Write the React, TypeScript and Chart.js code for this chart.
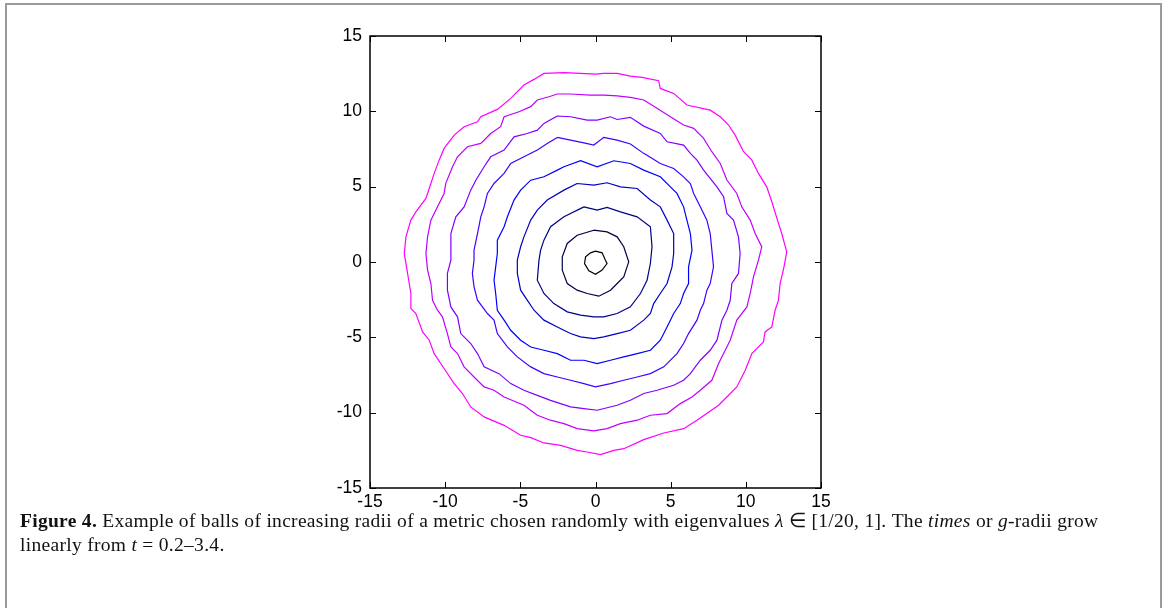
import React, { useEffect, useRef } from "react";
import { Chart, registerables } from "chart.js";

Chart.register(...registerables);

// times (g-radii) of the balls
const times = [0.2, 0.6, 1.0, 1.4, 1.8, 2.2, 2.6, 3.0, 3.4];

// axis ticks
const axisTicks = [-15, -10, -5, 0, 5, 10, 15];

// ball boundaries, [x, y]
const ball1: number[][] = [
  [0, 0.72], [0.44, 0.61], [0.66, 0.12], [0.77, -0.1], [0.44, -0.54], [0, -0.81],
  [-0.44, -0.59], [-0.73, -0.1], [-0.66, 0.34], [-0.33, 0.61],
];
const ball2: number[][] = [
  [-0.11, 2.11], [0.77, 2.0], [1.44, 1.67], [1.88, 1.01], [2.21, 0.01], [1.88, -0.99],
  [1.44, -1.43], [1.0, -1.87], [0.22, -2.27], [-0.55, -2.09], [-1.22, -1.87], [-1.88, -1.43],
  [-2.21, -0.54], [-2.21, 0.34], [-1.88, 1.23], [-1.22, 1.78],
];
const ball3: number[][] = [
  [-0.77, 3.66], [0.11, 3.44], [0.77, 3.62], [1.66, 3.33], [2.77, 3.0], [3.65, 2.34],
  [3.76, 1.01], [3.65, -0.1], [3.43, -1.21], [2.99, -2.09], [2.32, -2.98], [1.44, -3.42],
  [0.55, -3.64], [-0.11, -3.64], [-1.0, -3.53], [-1.88, -3.31], [-2.77, -2.76], [-3.43, -2.09],
  [-3.87, -1.21], [-3.76, 0.12], [-3.65, 0.79], [-3.43, 1.45], [-2.99, 2.34], [-2.1, 3.0],
];
const ball4: number[][] = [
  [-1.22, 5.21], [-0.11, 5.1], [0.77, 5.26], [1.66, 4.99], [2.77, 4.88], [3.65, 4.11],
  [4.31, 3.66], [4.76, 2.78], [5.2, 1.89], [5.2, 0.56], [5.09, -0.32], [4.76, -1.43],
  [4.31, -2.09], [3.87, -2.76], [3.65, -3.42], [3.21, -3.86], [2.32, -4.53], [1.44, -4.75],
  [0.55, -4.97], [-0.11, -5.08], [-1.0, -4.97], [-1.66, -4.75], [-2.54, -4.31], [-3.43, -3.86],
  [-4.09, -3.2], [-4.54, -2.53], [-4.98, -1.87], [-5.2, -0.76], [-5.2, 0.12], [-4.98, 1.01],
  [-4.76, 1.67], [-4.31, 2.78], [-3.87, 3.44], [-3.21, 4.11], [-2.1, 4.77],
];
const ball5: number[][] = [
  [-2.1, 6.32], [-0.99, 6.72], [0.11, 6.32], [1.22, 6.72], [2.32, 6.54], [3.21, 6.1],
  [4.31, 5.66], [4.98, 4.99], [5.42, 4.55], [5.86, 3.66], [6.08, 2.78], [6.31, 1.89],
  [6.42, 0.79], [6.19, -0.32], [6.19, -1.43], [5.86, -2.09], [5.64, -2.76], [5.2, -3.42],
  [4.76, -4.31], [4.31, -5.19], [3.65, -5.86], [2.77, -6.08], [1.88, -6.3], [1.0, -6.52],
  [0.11, -6.74], [-0.77, -6.52], [-1.66, -6.52], [-2.54, -6.08], [-3.43, -5.86], [-4.31, -5.64],
  [-4.98, -5.19], [-5.64, -4.53], [-6.08, -3.86], [-6.53, -3.2], [-6.64, -2.09], [-6.75, -1.21],
  [-6.64, -0.32], [-6.53, 0.56], [-6.53, 1.45], [-6.08, 2.34], [-5.86, 3.0], [-5.42, 4.11],
  [-4.98, 4.77], [-4.31, 5.43], [-3.43, 5.66], [-2.54, 6.1],
];
const ball6: number[][] = [
  [-2.54, 8.27], [-1.66, 8.09], [-0.77, 7.91], [-0.11, 7.76], [0.55, 8.27], [1.44, 8.09],
  [2.32, 7.83], [3.21, 7.21], [4.31, 6.54], [5.2, 6.21], [5.86, 5.65], [6.31, 5.21],
  [6.53, 4.55], [6.97, 3.66], [7.41, 2.78], [7.63, 1.89], [7.74, 0.79], [7.85, -0.32],
  [7.63, -1.43], [7.41, -1.87], [7.19, -2.76], [6.97, -3.2], [6.75, -3.86], [6.19, -4.75],
  [5.86, -5.41], [5.42, -6.08], [4.54, -6.96], [3.65, -7.41], [2.77, -7.63], [1.88, -7.85],
  [1.0, -8.07], [0.0, -8.29], [-0.77, -8.07], [-1.66, -7.85], [-2.54, -7.63], [-3.43, -7.41],
  [-4.31, -6.96], [-5.2, -6.3], [-5.86, -5.63], [-6.53, -4.75], [-6.75, -3.86], [-7.19, -3.42],
  [-7.85, -2.53], [-8.08, -1.65], [-8.19, -0.76], [-8.08, 0.12], [-8.08, 0.79], [-7.85, 1.89],
  [-7.63, 3.0], [-7.41, 3.66], [-7.19, 4.55], [-6.75, 5.21], [-6.08, 5.88], [-5.64, 6.54],
  [-4.76, 6.98], [-3.87, 7.43], [-3.21, 7.87],
];
const ball7: number[][] = [
  [-2.54, 9.69], [-1.66, 9.64], [-0.55, 9.42], [0.11, 9.42], [0.99, 9.64], [1.44, 9.46],
  [2.32, 9.6], [3.21, 9.02], [4.31, 8.53], [4.76, 7.98], [5.86, 7.76], [6.31, 7.21],
  [6.75, 6.76], [7.19, 6.1], [8.08, 4.99], [8.52, 4.33], [8.74, 3.22], [9.18, 2.78],
  [9.51, 1.67], [9.62, 0.56], [9.51, -0.76], [9.07, -1.43], [8.96, -2.54], [8.74, -3.2],
  [8.41, -3.86], [8.08, -5.19], [7.63, -5.86], [6.97, -6.52], [6.31, -7.41], [5.86, -7.85],
  [5.2, -8.18], [4.09, -8.51], [3.21, -8.73], [2.32, -9.18], [1.44, -9.51], [0.11, -9.84],
  [-0.77, -9.73], [-1.66, -9.62], [-2.99, -9.18], [-3.87, -8.85], [-4.76, -8.51], [-5.64, -8.07],
  [-6.42, -7.41], [-7.41, -6.96], [-7.85, -6.08], [-8.3, -5.41], [-8.96, -4.75], [-9.18, -3.64],
  [-9.62, -2.98], [-9.85, -1.87], [-9.85, -0.76], [-9.62, 0.12], [-9.62, 1.01], [-9.62, 1.89],
  [-9.29, 3.0], [-8.74, 3.66], [-8.3, 4.77], [-7.96, 5.43], [-7.41, 6.32], [-6.97, 6.98],
  [-6.08, 7.43], [-5.42, 8.31], [-4.54, 8.53], [-3.87, 8.75], [-3.43, 9.2],
];
const ball8: number[][] = [
  [-0.33, 11.08], [-1.66, 11.15], [-2.54, 11.15], [-3.1, 10.97], [-3.87, 10.75], [-4.31, 10.31],
  [-5.09, 9.97], [-6.08, 9.64], [-6.31, 8.98], [-6.97, 8.53], [-7.63, 7.87], [-8.52, 7.65],
  [-9.18, 6.98], [-9.51, 6.32], [-9.96, 5.22], [-10.07, 4.55], [-10.51, 3.66], [-10.95, 2.78],
  [-11.17, 1.67], [-11.28, 0.56], [-11.17, -0.54], [-10.95, -1.43], [-10.84, -2.54], [-10.51, -3.2],
  [-10.18, -3.64], [-9.85, -4.75], [-9.62, -5.64], [-9.18, -6.08], [-8.74, -6.96], [-8.08, -7.63],
  [-7.41, -8.29], [-6.75, -8.51], [-6.08, -8.96], [-4.76, -9.51], [-3.87, -10.17], [-2.99, -10.5],
  [-2.1, -10.73], [-1.22, -11.06], [-0.11, -11.21], [0.77, -11.06], [1.66, -10.73], [2.77, -10.5],
  [3.65, -10.17], [4.76, -10.06], [5.64, -9.4], [6.42, -8.96], [6.97, -8.51], [7.74, -7.85],
  [8.19, -6.74], [8.52, -6.08], [8.96, -5.19], [9.4, -3.86], [10.07, -2.98], [10.29, -2.09],
  [10.51, -0.99], [10.84, 0.12], [11.06, 1.0], [10.62, 1.89], [10.29, 2.78], [9.73, 3.66],
  [9.4, 4.55], [8.74, 5.44], [8.3, 6.54], [7.74, 7.32], [7.19, 8.2], [6.53, 8.87],
  [5.86, 9.09], [4.98, 9.64], [4.09, 10.2], [3.21, 10.75], [2.32, 10.93], [1.44, 11.02],
  [0.55, 11.08],
];
const ball9: number[][] = [
  [0, 12.47], [0.55, 12.52], [1.44, 12.52], [2.32, 12.34], [3.1, 12.25], [4.2, 12.03],
  [4.31, 11.52], [5.2, 11.19], [6.08, 10.42], [7.63, 10.08], [8.3, 9.64], [8.85, 9.09],
  [9.29, 8.42], [9.85, 7.32], [10.4, 6.76], [10.84, 5.88], [11.39, 4.99], [11.73, 4.0],
  [12.17, 2.56], [12.39, 1.89], [12.72, 0.67], [12.54, -0.32], [12.28, -1.43], [12.17, -2.53],
  [11.95, -3.2], [11.73, -4.31], [11.28, -4.64], [11.17, -5.3], [10.4, -6.08], [9.96, -7.18],
  [9.4, -8.29], [8.74, -8.96], [8.19, -9.51], [6.75, -10.5], [5.86, -11.06], [4.54, -11.35],
  [3.21, -11.79], [1.88, -12.39], [1.22, -12.5], [0.33, -12.78], [-0.55, -12.61], [-1.22, -12.5],
  [-2.32, -12.17], [-3.43, -12.01], [-4.31, -11.66], [-4.98, -11.5], [-6.08, -10.84], [-7.41, -10.28],
  [-8.3, -9.62], [-8.85, -8.73], [-9.4, -8.07], [-10.07, -7.07], [-10.73, -6.08], [-11.06, -5.19],
  [-11.5, -4.64], [-11.95, -3.42], [-12.28, -3.09], [-12.28, -2.09], [-12.5, -0.76], [-12.72, 0.57],
  [-12.61, 1.67], [-12.28, 2.78], [-11.95, 3.33], [-11.28, 4.22], [-10.95, 5.21], [-10.73, 5.88],
  [-10.4, 6.76], [-10.07, 7.54], [-9.4, 8.42], [-8.74, 8.98], [-7.85, 9.31], [-7.63, 9.64],
  [-6.53, 10.13], [-5.64, 10.86], [-4.76, 11.75], [-4.09, 12.12], [-3.43, 12.52], [-2.1, 12.57],
  [-1.0, 12.52],
];

const balls = [ball1, ball2, ball3, ball4, ball5, ball6, ball7, ball8, ball9];

// line colours, black -> blue -> magenta
const ringColors = [
  "#000000", "#000048", "#000088", "#0000c4", "#0000ff",
  "#4000ff", "#8000ff", "#bf00ff", "#ff00ff",
];

const framePlugin = {
  id: "gnuplotFrame",
  afterDraw(chart: any) {
    const { ctx, chartArea } = chart;
    const xs = chart.scales.x;
    const ys = chart.scales.y;
    const L = 6;
    ctx.save();
    ctx.strokeStyle = "#000";
    ctx.lineWidth = 1;
    ctx.beginPath();
    for (const v of axisTicks) {
      const px = Math.round(xs.getPixelForValue(v)) + 0.5;
      ctx.moveTo(px, chartArea.bottom);
      ctx.lineTo(px, chartArea.bottom - L);
      ctx.moveTo(px, chartArea.top);
      ctx.lineTo(px, chartArea.top + L);
      const py = Math.round(ys.getPixelForValue(v)) + 0.5;
      ctx.moveTo(chartArea.left, py);
      ctx.lineTo(chartArea.left + L, py);
      ctx.moveTo(chartArea.right, py);
      ctx.lineTo(chartArea.right - L, py);
    }
    ctx.stroke();
    ctx.lineWidth = 1.5;
    ctx.strokeRect(
      chartArea.left,
      chartArea.top,
      chartArea.right - chartArea.left,
      chartArea.bottom - chartArea.top
    );
    ctx.restore();
  },
};

export default function App() {
  const ref = useRef<HTMLCanvasElement | null>(null);

  useEffect(() => {
    if (!ref.current) return;
    const datasets = balls.map((b, i) => ({
      label: "t = " + times[i],
      data: [...b, b[0]].map(([x, y]) => ({ x, y })),
      showLine: true,
      borderColor: ringColors[i],
      borderWidth: 1.2,
      pointRadius: 0,
      fill: false,
      tension: 0,
    }));
    const tickFont = { family: "'Liberation Sans', Arial, sans-serif", size: 17.5 };
    const chart = new Chart(ref.current, {
      type: "scatter",
      data: { datasets },
      plugins: [framePlugin],
      options: {
        animation: false,
        responsive: false,
        maintainAspectRatio: false,
        events: [],
        layout: { padding: { left: 330, right: 347, top: 36, bottom: 90 } },
        plugins: { legend: { display: false }, tooltip: { enabled: false } },
        scales: {
          x: {
            type: "linear",
            min: -15,
            max: 15,
            afterBuildTicks: (s: any) => {
              s.ticks = axisTicks.map((v) => ({ value: v }));
            },
            afterFit: (s: any) => {
              s.height = 30;
            },
            grid: { display: false, drawTicks: false },
            border: { display: false },
            ticks: { color: "#000", font: tickFont, padding: 4, maxRotation: 0 },
          },
          y: {
            type: "linear",
            min: -15,
            max: 15,
            afterBuildTicks: (s: any) => {
              s.ticks = axisTicks.map((v) => ({ value: v }));
            },
            afterFit: (s: any) => {
              s.width = 40;
            },
            grid: { display: false, drawTicks: false },
            border: { display: false },
            ticks: { color: "#000", font: tickFont, padding: 8 },
          },
        },
      },
    });
    return () => chart.destroy();
  }, []);

  const serif = "'Liberation Serif', 'Times New Roman', serif";
  return (
    <div
      style={{
        position: "absolute",
        left: 0,
        top: 0,
        width: 1168,
        height: 608,
        background: "#fff",
        overflow: "hidden",
      }}
    >
      <div
        style={{
          position: "absolute",
          left: 5,
          top: 3,
          width: 1157,
          height: 620,
          border: "2px solid #9a9a9a",
          boxSizing: "border-box",
        }}
      />
      <canvas
        ref={ref}
        width={1168}
        height={608}
        style={{ position: "absolute", left: 0, top: 0, width: 1168, height: 608 }}
      />
      <div
        style={{
          position: "absolute",
          left: 20,
          top: 509,
          width: 1135,
          whiteSpace: "nowrap",
          fontFamily: serif,
          fontSize: 19.5,
          lineHeight: "24px",
          color: "#111",
          letterSpacing: "0.3px",
        }}
      >
        <b>Figure 4.</b> Example of balls of increasing radii of a metric chosen randomly with
        eigenvalues <i>λ</i> ∈ [1/20, 1]. The <i>times</i> or <i>g</i>-radii grow
        <br />
        linearly from <i>t</i> = 0.2–3.4.
      </div>
    </div>
  );
}
